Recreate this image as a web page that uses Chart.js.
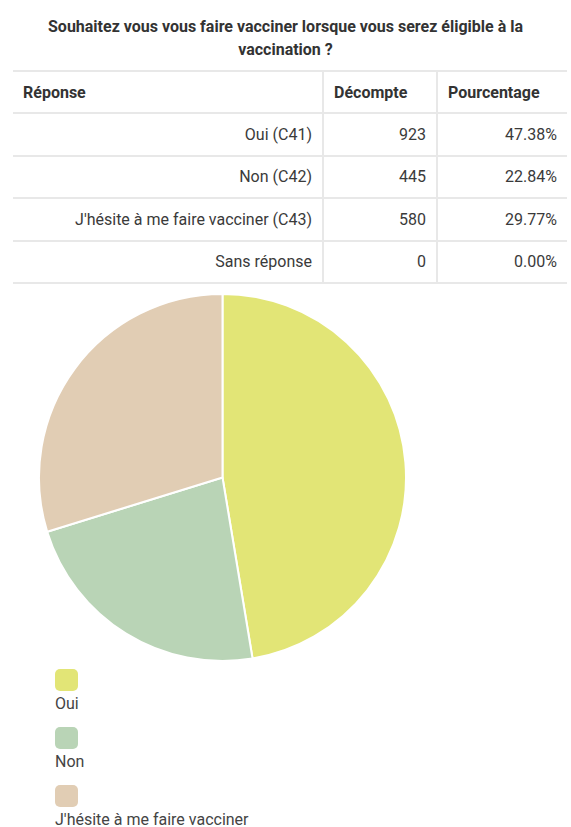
<!DOCTYPE html>
<html>
<head>
<meta charset="utf-8">
<script src="https://cdn.jsdelivr.net/npm/chart.js@4"></script>
<style>
	body { margin: 0; background: #fff; font-family: Roboto, "Noto Sans", sans-serif; color: #333; }
	#page { position: relative; width: 571px; height: 827px; overflow: hidden; }
	#title { position: absolute; top: 15px; left: 0; width: 571px; text-align: center;
		font-size: 16px; font-weight: bold; line-height: 23px; color: #333; }
	#results { position: absolute; top: 70px; left: 13px; width: 554px; border-collapse: collapse;
		table-layout: fixed; font-size: 16px; }
	#results th, #results td { height: 40.4px; padding: 0 10px; border-top: 2px solid #e8e8e8; border-bottom: 2px solid #e8e8e8; }
	#results th { text-align: left; font-weight: bold; color: #333; }
	#results td { text-align: right; color: #3a3a3a; }
	#results th + th, #results td + td { border-left: 2px solid #e8e8e8; }
	#chartBox { position: absolute; left: 38px; top: 293px; width: 369px; height: 369px; }
	#legend { position: absolute; left: 55px; top: 669px; }
	.legend-item { height: 58px; font-size: 16px; line-height: 20px; color: #444; }
	.legend-box { width: 23px; height: 22px; border-radius: 5px; margin-bottom: 3px; }
</style>
</head>
<body>
<div id="page">
	<div id="title">Souhaitez vous vous faire vacciner lorsque vous serez éligible à la<br>vaccination ?</div>
	<table id="results">
		<colgroup><col style="width:310px"><col style="width:114px"><col style="width:130px"></colgroup>
		<thead>
			<tr><th>Réponse</th><th>Décompte</th><th>Pourcentage</th></tr>
		</thead>
		<tbody id="rows"></tbody>
	</table>
	<div id="chartBox"><canvas id="pieChart"></canvas></div>
	<div id="legend"></div>
</div>
<script>
// table rows
var answers = ['Oui (C41)', 'Non (C42)', "J'hésite à me faire vacciner (C43)", 'Sans réponse'];
var counts = [923, 445, 580, 0];
var percents = ['47.38%', '22.84%', '29.77%', '0.00%'];

// pie
var pieLabels = ['Oui', 'Non', "J'hésite à me faire vacciner"];
var pieValues = [923, 445, 580];
var pieColors = ['#e2e576', '#b9d4b6', '#e1cdb4'];

var tbody = document.getElementById('rows');
for(var i = 0; i < answers.length; i++) {
	var tr = document.createElement('tr');
	tr.innerHTML = '<td>' + answers[i] + '</td><td>' + counts[i] + '</td><td>' + percents[i] + '</td>';
	tbody.appendChild(tr);
}

// html legend, box above the text like the original
const htmlLegend = {
	id: 'htmlLegend',
	afterUpdate(chart) {
		var box = document.getElementById('legend');
		box.innerHTML = '';
		var items = chart.options.plugins.legend.labels.generateLabels(chart);
		items.forEach(function(item) {
			var div = document.createElement('div');
			div.className = 'legend-item';
			div.innerHTML = '<div class="legend-box" style="background:' + item.fillStyle + '"></div>' + item.text;
			box.appendChild(div);
		});
	}
};

const ctx = document.getElementById('pieChart').getContext('2d');
new Chart(ctx, {
	type: 'pie',
	data: {
		labels: pieLabels,
		datasets: [{
			data: pieValues,
			backgroundColor: pieColors,
			borderColor: '#fff',
			borderWidth: 2,
		}],
	},
	options: {
		responsive: true,
		maintainAspectRatio: false,
		animation: false,
		layout: { padding: 0 },
		plugins: {
			legend: { display: false },
			tooltip: { enabled: false },
		},
	},
	plugins: [htmlLegend],
});
</script>
</body>
</html>
